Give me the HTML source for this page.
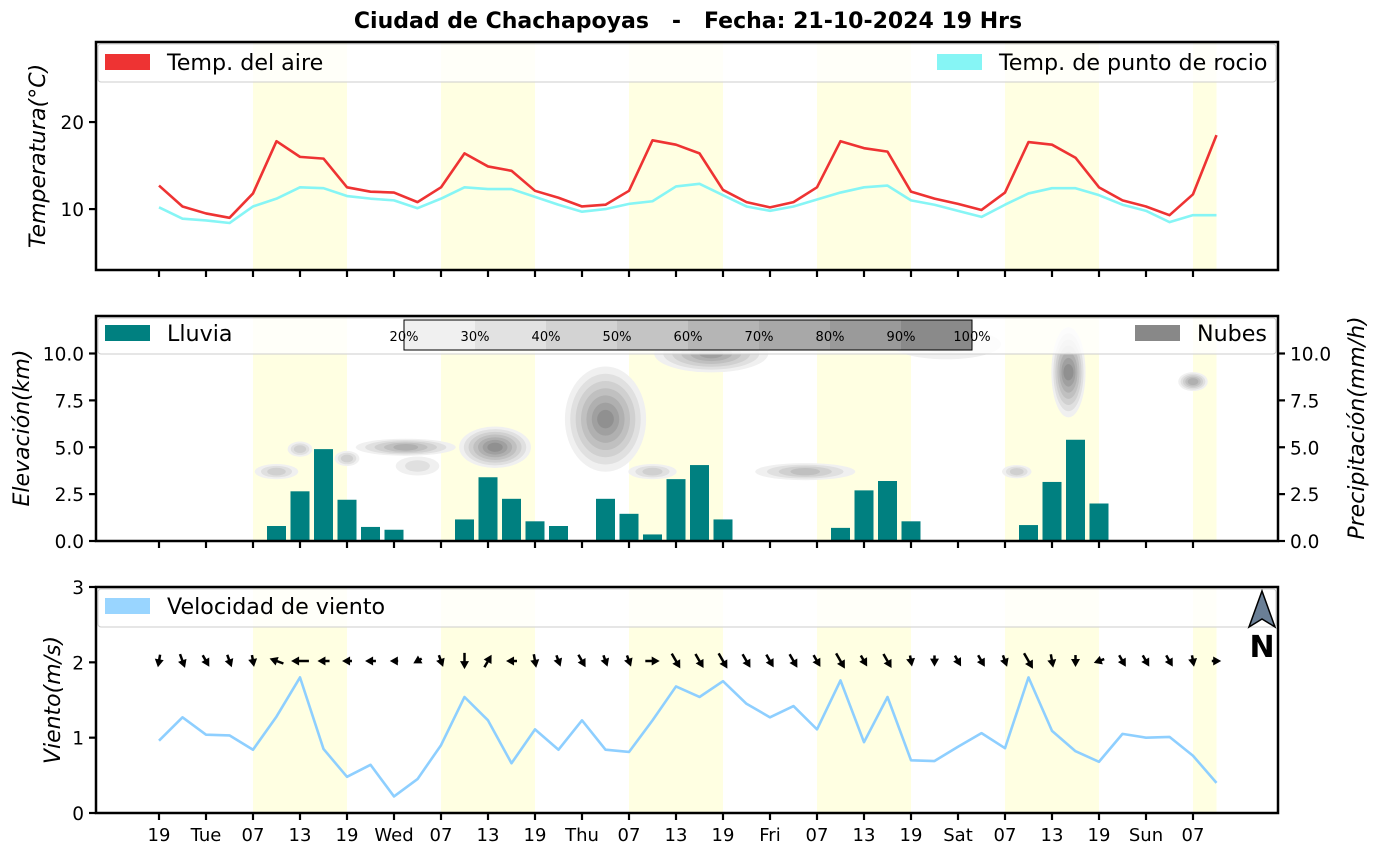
<!DOCTYPE html>
<html><head><meta charset="utf-8"><style>
html,body{margin:0;padding:0;background:#fff;}
svg{display:block;font-family:"DejaVu Sans","Liberation Sans",sans-serif;}
</style></head><body>
<svg id="chart" width="1382" height="854" viewBox="0 0 1382 854" xmlns="http://www.w3.org/2000/svg">
<text x="688" y="28" text-anchor="middle" font-size="22" font-weight="bold" style="white-space:pre">Ciudad de Chachapoyas   -   Fecha: 21-10-2024 19 Hrs</text>
</svg>
<script>
const tickLabels=["19","Tue","07","13","19","Wed","07","13","19","Thu","07","13","19","Fri","07","13","19","Sat","07","13","19","Sun","07"];
const tempAir=[12.7,10.3,9.5,9.0,11.8,17.8,16.0,15.8,12.5,12.0,11.9,10.8,12.5,16.4,14.9,14.4,12.1,11.3,10.3,10.5,12.1,17.9,17.4,16.4,12.2,10.8,10.2,10.8,12.5,17.8,17.0,16.6,12.0,11.2,10.6,9.9,11.9,17.7,17.4,15.9,12.5,11.0,10.3,9.3,11.7,18.5];
const tempDew=[10.2,8.9,8.7,8.4,10.3,11.2,12.5,12.4,11.5,11.2,11.0,10.1,11.2,12.5,12.3,12.3,11.4,10.5,9.7,10.0,10.6,10.9,12.6,12.9,11.6,10.3,9.8,10.3,11.1,11.9,12.5,12.7,11.0,10.5,9.8,9.1,10.5,11.8,12.4,12.4,11.6,10.5,9.8,8.5,9.3,9.3];
const rain=[0,0,0,0,0,0.8,2.65,4.9,2.2,0.75,0.6,0.05,0,1.15,3.4,2.25,1.05,0.8,0.05,2.25,1.45,0.35,3.3,4.05,1.15,0,0,0,0,0.7,2.7,3.2,1.05,0,0,0,0,0.85,3.15,5.4,2.0,0.05,0,0,0,0.05];
const wind=[0.96,1.27,1.04,1.03,0.84,1.28,1.80,0.85,0.48,0.64,0.22,0.45,0.90,1.54,1.23,0.66,1.11,0.84,1.23,0.84,0.81,1.23,1.68,1.54,1.75,1.45,1.27,1.42,1.11,1.76,0.94,1.54,0.70,0.69,0.88,1.06,0.86,1.80,1.09,0.82,0.68,1.05,1.00,1.01,0.76,0.40];
const windDir=[100,70,60,70,80,200,180,180,180,180,180,150,70,90,-60,180,80,70,60,70,70,0,60,60,60,60,60,60,60,60,60,60,80,90,60,60,70,60,80,90,160,60,60,60,80,0];
const cloudIdx=[5,6,8,10.5,11,14.3,19,23.5,21,27.5,33.5,38.7,36.5,44];
const cloudElev=[3.7,4.9,4.4,5.0,4.0,5.0,6.5,10.0,3.7,3.7,10.5,9.0,3.7,8.5];
const cloudHW=[0.8,0.4,0.4,2.0,0.8,1.4,1.6,2.3,0.9,2.0,2.2,0.6,0.5,0.5];
const cloudHH=[0.3,0.3,0.3,0.35,0.4,1.0,2.7,0.9,0.3,0.35,0.7,2.3,0.25,0.4];
const cloudPct=[40,40,40,55,30,75,80,65,35,45,30,80,35,55];

const S=document.getElementById('chart');const NS='http://www.w3.org/2000/svg';
function el(t,a,p){const e=document.createElementNS(NS,t);for(const k in a)e.setAttribute(k,a[k]);(p||S).appendChild(e);return e;}
const X=i=>159+23.5*i;
const L=96,R=1278;
const P=[{t:42,b:270,min:3,max:29.2},{t:316,b:541,min:0,max:12},{t:587,b:813,min:0,max:3}];
const Y=(p,v)=>p.b-(v-p.min)/(p.max-p.min)*(p.b-p.t);
const bands=[[4,8],[12,16],[20,24],[28,32],[36,40],[44,45]];
P.forEach((p,pi)=>{bands.forEach(b=>{const r=el('rect',{x:X(b[0]),y:p.t,width:X(b[1])-X(b[0]),height:p.b-p.t,fill:'#ffffe2'});

});});
function line(arr,p,color,name){const pts=arr.map((v,i)=>X(i)+','+Y(p,v)).join(' ');const e=el('polyline',{points:pts,fill:'none',stroke:color,'stroke-width':2.6,'stroke-linejoin':'round'});

}
line(tempDew,P[0],'#86f5f5','dew-point-line');
line(tempAir,P[0],'#ee3333','air-temp-line');
const cg=el('g',{});
cloudIdx.forEach((ci,k)=>{const cx=X(ci),cy=Y(P[1],cloudElev[k]);const rx=cloudHW[k]*23.5,ry=cloudHH[k]*(225/12);
const steps=Math.max(2,Math.round((cloudPct[k]-20)/10)+1);
for(let s=0;s<steps;s++){const f=1-s/steps;const g=240-s*16;const e=el('ellipse',{cx:cx,cy:cy,rx:rx*f+3,ry:ry*f+2,fill:`rgb(${g},${g},${g})`},cg);

}});
rain.forEach((v,i)=>{if(v<=0)return;const y=Y(P[1],v);const r=el('rect',{x:X(i)-9.5,y:y,width:19,height:P[1].b-y,fill:'#008080'});

});
line(wind,P[2],'#8ecfff','wind-speed-line');
windDir.forEach((d,i)=>{const len=7+wind[i]*6;const g=el('g',{transform:`translate(${X(i)},661) rotate(${d})`});


el('line',{x1:-len/2,y1:0,x2:len/2-4,y2:0,stroke:'#000','stroke-width':2.5},g);
el('polygon',{points:`${len/2},0 ${len/2-8},-4.5 ${len/2-8},4.5`,fill:'#000'},g);});
function legend(p,y0,y1){const r=el('rect',{x:L+2,y:y0,width:R-L-4,height:y1-y0,fill:'#fff','fill-opacity':0.8,stroke:'#ccc','stroke-width':1,rx:3});

}
function entry(x,y,color,txt,name){const g=el('g',{});
el('rect',{x:x,y:y-8,width:45,height:16,fill:color},g);const t=el('text',{x:x+62,y:y+8,'font-size':22.2},g);t.textContent=txt;}
legend(P[0],44,82);entry(105,62,'#ee3333','Temp. del aire','legend-air-temp');entry(937,62,'#86f5f5','Temp. de punto de rocio','legend-dew-point');
legend(P[1],318,354);entry(105,333,'#008080','Lluvia','legend-rain');entry(1135,333,'#888888','Nubes','legend-clouds');
legend(P[2],589,627);entry(105,606,'#99d5ff','Velocidad de viento','legend-wind');
const cb=el('g',{});
const cbCols=['#f0f0f0','#e2e2e2','#d3d3d3','#c4c4c4','#b5b5b5','#a8a8a8','#9a9a9a','#8a8a8a'];
cbCols.forEach((c,k)=>el('rect',{x:404+71*k,y:320,width:71,height:30,fill:c},cb));
el('rect',{x:404,y:320,width:568,height:30,fill:'none',stroke:'#000','stroke-width':1},cb);
['20%','30%','40%','50%','60%','70%','80%','90%','100%'].forEach((s,k)=>{const t=el('text',{x:404+71*k,y:341,'font-size':13,'text-anchor':'middle'},cb);t.textContent=s;});
P.forEach((p,pi)=>{const f=el('rect',{x:L,y:p.t,width:R-L,height:p.b-p.t,fill:'none',stroke:'#000','stroke-width':2.5});

tickLabels.forEach((s,k)=>{el('line',{x1:X(2*k),x2:X(2*k),y1:p.b,y2:p.b+7,stroke:'#000','stroke-width':2.2});});});
tickLabels.forEach((s,k)=>{const t=el('text',{x:X(2*k),y:841,'font-size':18,'text-anchor':'middle'});t.textContent=s;
});
function yt(p,vals,side){vals.forEach(v=>{const y=Y(p,v);const x=side?R:L;el('line',{x1:x,x2:x+(side?7:-7),y1:y,y2:y,stroke:'#000','stroke-width':2.2});
const t=el('text',{x:side?x+12:x-12,y:y+7,'font-size':18.5,'text-anchor':side?'start':'end'});t.textContent=(p===P[1]?v.toFixed(1):v);
});}
yt(P[0],[10,20],0);yt(P[1],[0,2.5,5,7.5,10],0);yt(P[1],[0,2.5,5,7.5,10],1);yt(P[2],[0,1,2,3],0);
function ylab(x,y,s,name){const t=el('text',{x:x,y:y,'font-size':22,'font-style':'italic','text-anchor':'middle',transform:`rotate(-90 ${x} ${y})`});t.textContent=s;
}
ylab(45,156,'Temperatura(°C)','y-axis-title-temp');ylab(29,428,'Elevación(km)','y-axis-title-elev');ylab(1364,428,'Precipitación(mm/h)','y-axis-title-precip');ylab(60,700,'Viento(m/s)','y-axis-title-wind');
const na=el('g',{});
el('polygon',{points:'1262,591 1275,627 1262,619 1249,627',fill:'#6a7f96',stroke:'#000','stroke-width':1.5},na);
const nt=el('text',{x:1262,y:657,'font-size':30,'font-weight':'bold','text-anchor':'middle'},na);nt.textContent='N';
</script>
</body></html>
